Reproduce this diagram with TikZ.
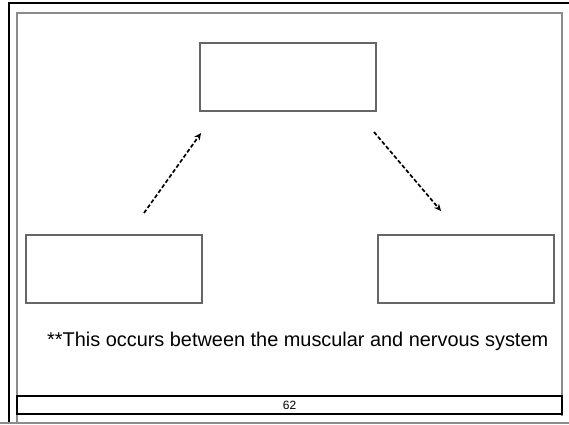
\documentclass[tikz,border=0pt]{standalone}
\usepackage{fontspec}
\setmainfont{Liberation Sans}
\usetikzlibrary{arrows.meta}
\begin{document}
\begin{tikzpicture}[x=1pt,y=-1pt,
  box/.style={draw=black!60,line width=1.3pt,fill=white},
  conn/.style={draw=black,line width=1.7pt,dash pattern=on 4pt off 2.2pt,-{Stealth[length=7pt,width=6.5pt]}},
  frame/.style={draw=black!45,line width=1.3pt},
  label/.style={font=\fontsize{19.9}{22}\selectfont,anchor=base west,inner sep=0pt}]
\useasboundingbox (0,0) rectangle (569,424);
\fill[white] (0,0) rectangle (569,424);
% outer black frame
\draw[black,line width=2.2pt] (9,424) -- (9,3) -- (569,3);
% inner gray frame
\draw[frame] (17,424) -- (17,13) -- (562,13) -- (562,416);
\draw[black!45,line width=1.3pt] (0,423) -- (569,423);
% footer
\draw[black,line width=1.2pt] (17,396) rectangle (562,414);
\node[font=\fontsize{12}{13}\selectfont,inner sep=0pt] (pg) at (289.5,405.5) {62};
% boxes
\node[box,minimum width=176pt,minimum height=68pt,inner sep=0pt] (top) at (288,77) {};
\node[box,minimum width=176pt,minimum height=68pt,inner sep=0pt] (left) at (114,269) {};
\node[box,minimum width=176pt,minimum height=68pt,inner sep=0pt] (right) at (466,269) {};
\coordinate (a1s) at (144,213);
\coordinate (a1e) at (201,133);
\coordinate (a2s) at (374,132);
\coordinate (a2e) at (441,211);
\draw[conn] (a1s) -- (a1e);
\draw[conn] (a2s) -- (a2e);
\node[label] (note) at (47,346) {**This occurs between the muscular and nervous system};
\end{tikzpicture}
\end{document}
